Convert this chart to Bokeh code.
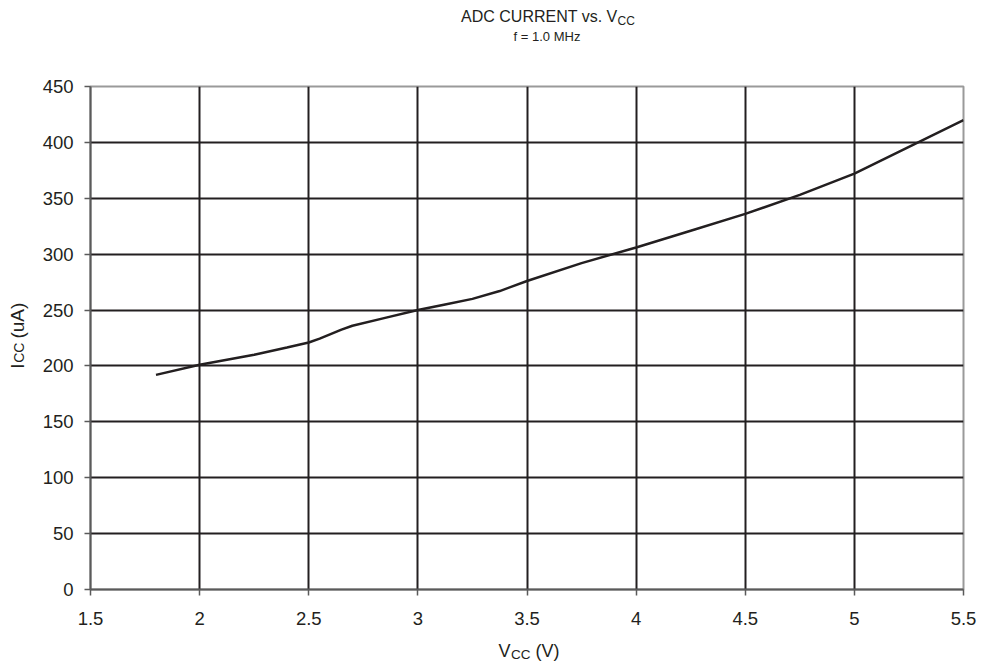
import math
from bokeh.plotting import figure
from bokeh.layouts import column, row
from bokeh.models import Range1d, FixedTicker
from bokeh.core.properties import value
from bokeh.embed import file_html
from bokeh.resources import INLINE

# ---- data ----
vcc = [1.8, 2.0, 2.25, 2.4, 2.5, 2.55, 2.6, 2.65, 2.7, 2.85, 3.0, 3.125, 3.25, 3.375, 3.5, 3.75, 4.0, 4.25, 4.5, 4.75, 5.0, 5.25, 5.5]
icc = [192, 201, 210, 216.5, 221, 224.5, 228.5, 232.5, 236, 243, 250, 255, 260, 267, 276, 292, 306, 321, 336, 353, 372, 396, 420]

x_ticks = [1.5, 2, 2.5, 3, 3.5, 4, 4.5, 5, 5.5]
x_tick_labels = ["1.5", "2", "2.5", "3", "3.5", "4", "4.5", "5", "5.5"]
y_ticks = [0, 50, 100, 150, 200, 250, 300, 350, 400, 450]
y_tick_labels = [str(v) for v in y_ticks]

TXT = "#231f20"
FONT = "Liberation Sans"

TOTAL_W = 985
TITLE_H = 70
MID_H = 565
XLAB_H = 31
YLAB_W = 30


def helper(w, h):
    f = figure(width=w, height=h, output_backend="svg", toolbar_location=None, title=None,
               x_range=Range1d(0, w), y_range=Range1d(h, 0),
               x_axis_type=None, y_axis_type=None,
               min_border=0, min_border_left=0, min_border_right=0,
               min_border_top=0, min_border_bottom=0)
    f.outline_line_color = None
    f.grid.visible = False
    f.background_fill_color = "white"
    f.border_fill_color = "white"
    return f


def txt(f, s, x, y, size, align="left", angle=0.0):
    f.text(x=[x], y=[y], text=[s], text_font=value(FONT), text_font_size=size,
           text_color=TXT, text_align=align, text_baseline="middle", angle=angle)


# ---- title strip (y = vertical centre of the glyphs) ----
t = helper(TOTAL_W, TITLE_H)
txt(t, "ADC CURRENT vs. V", 617, 15.7, "16px", align="right")
txt(t, "CC", 617, 20.5, "12px")
txt(t, "f = 1.0 MHz", 546.5, 36, "13px", align="center")

# ---- y label strip (rotated, centred pieces) ----
yl = helper(YLAB_W, MID_H)
yo = TITLE_H
txt(yl, "I", 17, 384 - yo, "19px", align="center", angle=math.pi / 2)
txt(yl, "CC", 18.5, 369 - yo, "14px", align="center", angle=math.pi / 2)
txt(yl, "(uA)", 17, 333 - yo, "19px", align="center", angle=math.pi / 2)

# ---- main chart ----
FL = 90 - YLAB_W
FR = TOTAL_W - 963
FT = 86 - TITLE_H
FB = TITLE_H + MID_H - 589
p = figure(width=TOTAL_W - YLAB_W, height=MID_H, output_backend="svg", toolbar_location=None,
           title=None,
           x_range=Range1d(x_ticks[0], x_ticks[-1]), y_range=Range1d(y_ticks[0], y_ticks[-1]),
           min_border_left=FL, min_border_right=FR, min_border_top=FT, min_border_bottom=FB)
p.background_fill_color = "white"
p.border_fill_color = "white"
p.outline_line_color = "#9a9a9a"
p.outline_line_width = 2

p.xaxis.ticker = FixedTicker(ticks=x_ticks)
p.yaxis.ticker = FixedTicker(ticks=y_ticks)
p.xaxis.major_label_overrides = {t_: l for t_, l in zip(x_ticks, x_tick_labels)}
p.yaxis.major_label_overrides = {t_: l for t_, l in zip(y_ticks, y_tick_labels)}
for ax in (p.xaxis, p.yaxis):
    ax.axis_line_color = "#5a5a5a"
    ax.axis_line_width = 2
    ax.major_tick_line_color = "#5a5a5a"
    ax.major_tick_line_width = 1.5
    ax.major_tick_out = 6
    ax.major_tick_in = 0
    ax.minor_tick_line_color = None
    ax.major_label_text_font = FONT
    ax.major_label_text_font_size = "18.5px"
    ax.major_label_text_color = TXT
p.yaxis.major_label_standoff = 11
p.xaxis.major_label_standoff = 16

p.xgrid.ticker = FixedTicker(ticks=x_ticks[1:-1])
p.ygrid.ticker = FixedTicker(ticks=y_ticks[1:-1])
for g in (p.xgrid, p.ygrid):
    g.grid_line_color = TXT
    g.grid_line_width = 2
    g.grid_line_alpha = 1.0

p.line(vcc, icc, line_color=TXT, line_width=2.5)

# ---- x label strip (y = vertical centre of the glyphs) ----
xl = helper(TOTAL_W, XLAB_H)
xo = TITLE_H + MID_H
txt(xl, "V", 498, 650.5 - xo, "18px")
txt(xl, "CC", 510.5, 653.5 - xo, "13.5px")
txt(xl, "(V)", 535, 650.5 - xo, "18px")

layout = column(t, row(yl, p), xl)
open("out.html", "w").write(file_html(layout, INLINE))
